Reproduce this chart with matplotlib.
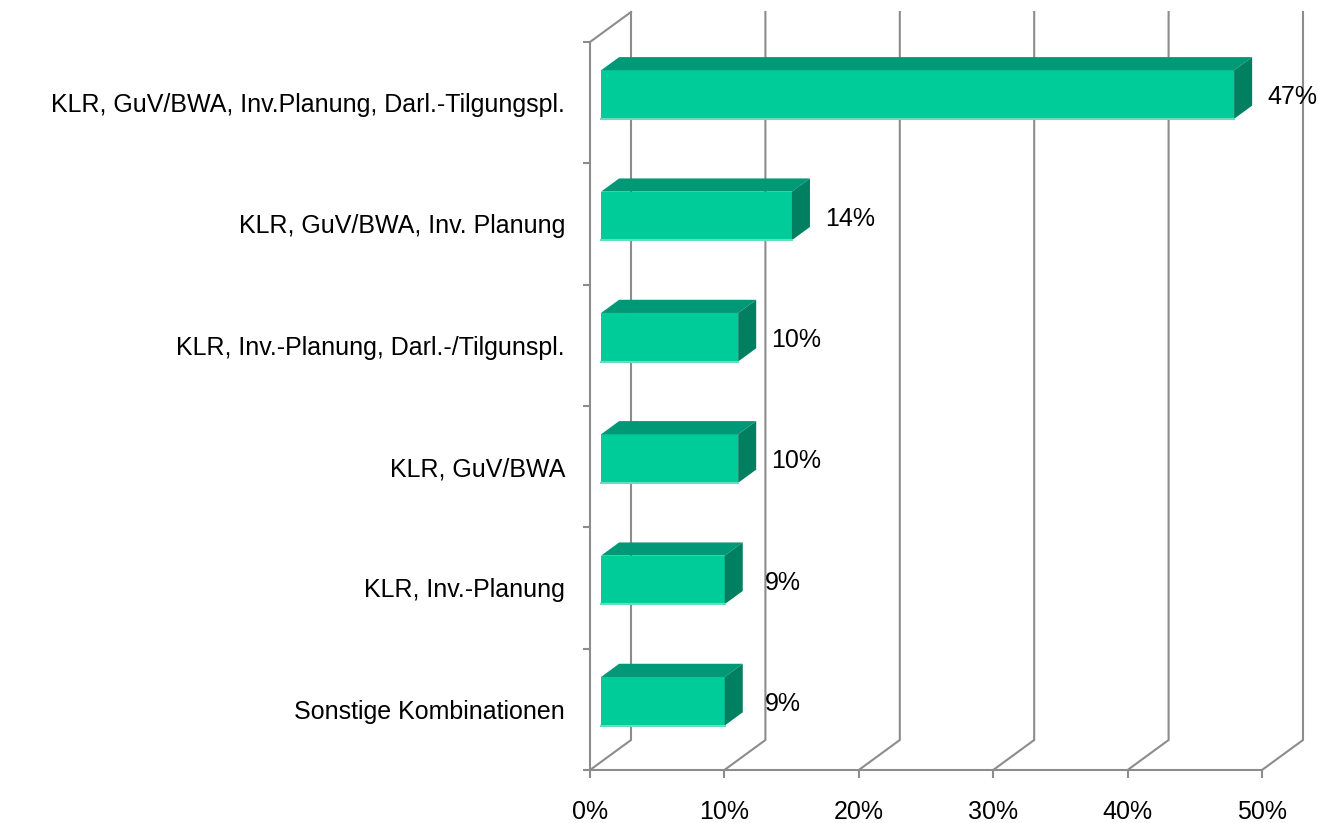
import matplotlib
matplotlib.use('Agg')
import matplotlib.pyplot as plt
from matplotlib.patches import Polygon

plt.rcParams['font.family'] = ['Liberation Sans', 'DejaVu Sans']

categories = ["Sonstige Kombinationen",
              "KLR, Inv.-Planung",
              "KLR, GuV/BWA",
              "KLR, Inv.-Planung, Darl.-/Tilgunspl.",
              "KLR, GuV/BWA, Inv. Planung",
              "KLR, GuV/BWA, Inv.Planung, Darl.-Tilgungspl."]
values = [9.2, 9.2, 10.2, 10.2, 14.2, 47.1]
value_labels = ["9%", "9%", "10%", "10%", "14%", "47%"]
xticks = [0, 10, 20, 30, 40, 50]
xticklabels = ["0%", "10%", "20%", "30%", "40%", "50%"]

GRID = '#8C8C8C'
FRONT = '#00CC99'
TOP = '#009977'
SIDE = '#008060'
EDGE = '#66DDBB'
FS = 18

fig = plt.figure(figsize=(13.18, 8.23), dpi=100)
ax = fig.add_axes([590/1318, 53/823, 672/1318, 728/823])
n = len(categories)
ax.set_xlim(0, 50)
ax.set_ylim(0, n)

# depth of the 3D box in data units
DX = 41 / 672 * 50
DY = 30 / 728 * n
f0, f1 = 0.27, 0.71
h = 0.2

# back-wall gridlines with floor diagonals
for k in xticks:
    ax.plot([k, k + DX, k + DX], [0, DY, n + DY], color=GRID, lw=1.5,
            clip_on=False, zorder=1, solid_joinstyle='miter')
# top-left edge of the side wall
ax.plot([0, DX], [n, n + DY], color=GRID, lw=1.5, clip_on=False, zorder=1)

for i, (v, lab) in enumerate(zip(values, value_labels)):
    c = i + 0.5
    x0 = f0 * DX
    x1 = v + f0 * DX
    yb = c - h + f0 * DY
    yt = c + h + f0 * DY
    ddx = (f1 - f0) * DX
    ddy = (f1 - f0) * DY
    ax.add_patch(Polygon([(x0, yb), (x1, yb), (x1, yt), (x0, yt)],
                         closed=True, facecolor=FRONT, edgecolor='none',
                         zorder=3, clip_on=False))
    ax.add_patch(Polygon([(x0, yt), (x1, yt), (x1 + ddx, yt + ddy), (x0 + ddx, yt + ddy)],
                         closed=True, facecolor=TOP, edgecolor='none',
                         zorder=3, clip_on=False))
    ax.add_patch(Polygon([(x1, yb), (x1 + ddx, yb + ddy), (x1 + ddx, yt + ddy), (x1, yt)],
                         closed=True, facecolor=SIDE, edgecolor='none',
                         zorder=3, clip_on=False))
    ax.plot([x0, x1], [yb, yb], color=EDGE, lw=1.5, zorder=4, clip_on=False)
    ax.annotate(lab, xy=(x1 + ddx, c + f0 * DY), xytext=(29, -2),
                textcoords='offset points', ha='center', va='center',
                fontsize=FS, color='black', zorder=5)

for s in ['top', 'right']:
    ax.spines[s].set_visible(False)
for s in ['left', 'bottom']:
    ax.spines[s].set_color(GRID)
    ax.spines[s].set_linewidth(1.5)
    ax.spines[s].set_zorder(2)

ax.set_xticks(xticks)
ax.set_xticklabels(xticklabels, fontsize=FS)
ax.tick_params(axis='x', direction='out', length=5.5, width=1.5, color=GRID, pad=16)

ax.set_yticks([i + 0.5 for i in range(n)])
ax.set_yticklabels(categories, fontsize=FS)
ax.tick_params(axis='y', which='major', length=0, pad=18)
ax.set_yticks(list(range(n + 1)), minor=True)
ax.tick_params(axis='y', which='minor', direction='out', length=5, width=1.5, color=GRID)

fig.savefig('out.png', dpi=100, facecolor='white')
